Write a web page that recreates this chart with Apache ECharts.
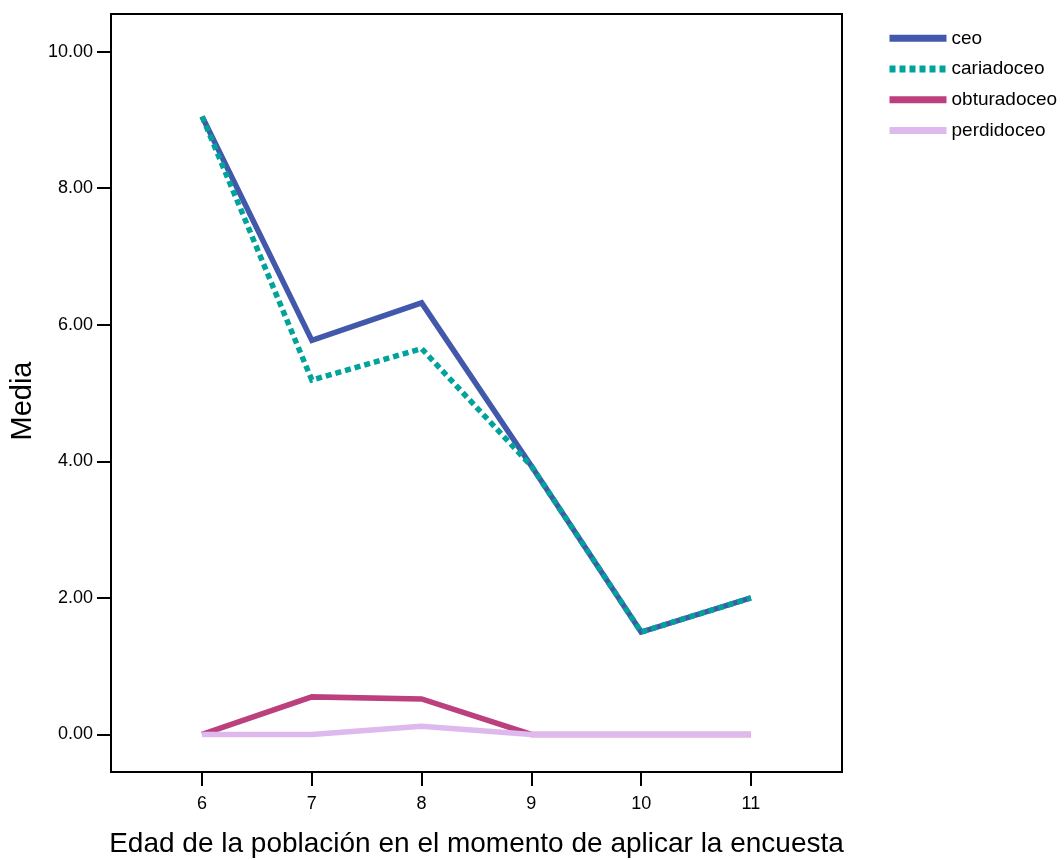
<!DOCTYPE html>
<html>
<head>
<meta charset="utf-8">
<script src="https://cdn.jsdelivr.net/npm/echarts@6/dist/echarts.min.js"></script>
<style>
html,body{margin:0;padding:0;background:#fff;}
#chart{width:1064px;height:860px;}
</style>
</head>
<body>
<div id="chart"></div>
<script>
const ages = [6, 7, 8, 9, 10, 11];
const yTicks = [0, 2, 4, 6, 8, 10];
const ceo = [9.05, 5.77, 6.32, 3.93, 1.50, 2.00];
const cariadoceo = [9.05, 5.19, 5.65, 3.93, 1.50, 2.00];
const obturadoceo = [0, 0.55, 0.52, 0, 0, 0];
const perdidoceo = [0, 0, 0.12, 0, 0, 0];
const seriesNames = ['ceo', 'cariadoceo', 'obturadoceo', 'perdidoceo'];
const seriesData = [ceo, cariadoceo, obturadoceo, perdidoceo];
const colors = ['#4258AA', '#00A39C', '#BC3F7E', '#DDB9EE'];
const xTitle = 'Edad de la población en el momento de aplicar la encuesta';
const yTitle = 'Media';

const font = 'Liberation Sans, Arial, sans-serif';
const chart = echarts.init(document.getElementById('chart'));
chart.setOption({
  animation: false,
  backgroundColor: '#fff',
  textStyle: { fontFamily: font },
  grid: {
    left: 111, top: 14, right: 222, bottom: 88,
    outerBoundsMode: 'none',
    containLabel: false,
    show: true, borderColor: '#000', borderWidth: 2, backgroundColor: '#fff'
  },
  legend: {
    orient: 'vertical',
    left: 886, top: 28,
    padding: 0,
    itemWidth: 57, itemHeight: 20, itemGap: 10,
    itemStyle: { opacity: 0 },
    lineStyle: { width: 7 },
    textStyle: { fontFamily: font, fontSize: 19, color: '#000', lineHeight: 20.7 },
    data: seriesNames
  },
  xAxis: {
    type: 'value',
    min: 5.17, max: 11.83,
    name: xTitle,
    nameLocation: 'middle',
    nameGap: 58,
    nameTextStyle: { fontSize: 28, color: '#000', fontFamily: font },
    axisLine: { show: true, onZero: false, lineStyle: { color: '#000', width: 2 } },
    axisTick: { show: true, length: 14, lineStyle: { color: '#000', width: 2 }, customValues: ages },
    axisLabel: { fontSize: 18, color: '#000', margin: 23, customValues: ages, formatter: v => String(v) },
    splitLine: { show: false }
  },
  yAxis: {
    type: 'value',
    min: -0.55, max: 10.55,
    name: yTitle,
    nameLocation: 'middle',
    nameGap: 68,
    nameRotate: 90,
    nameTextStyle: { fontSize: 29, color: '#000', fontFamily: font, padding: [0, 16, 0, 0] },
    axisLine: { show: true, onZero: false, lineStyle: { color: '#000', width: 2 } },
    axisTick: { show: true, length: 14, lineStyle: { color: '#000', width: 2 }, customValues: yTicks },
    axisLabel: { fontSize: 18, color: '#000', margin: 18, customValues: yTicks, formatter: v => v.toFixed(2) },
    splitLine: { show: false }
  },
  series: seriesNames.map((name, i) => ({
    name: name,
    type: 'line',
    data: ages.map((a, j) => [a, seriesData[i][j]]),
    symbol: 'none',
    color: colors[i],
    lineStyle: {
      color: colors[i],
      width: 5.5,
      type: i === 1 ? [6, 4] : 'solid',
      cap: 'butt',
      join: 'miter'
    },
    itemStyle: { color: colors[i] },
    emphasis: { disabled: true }
  }))
});
</script>
</body>
</html>
